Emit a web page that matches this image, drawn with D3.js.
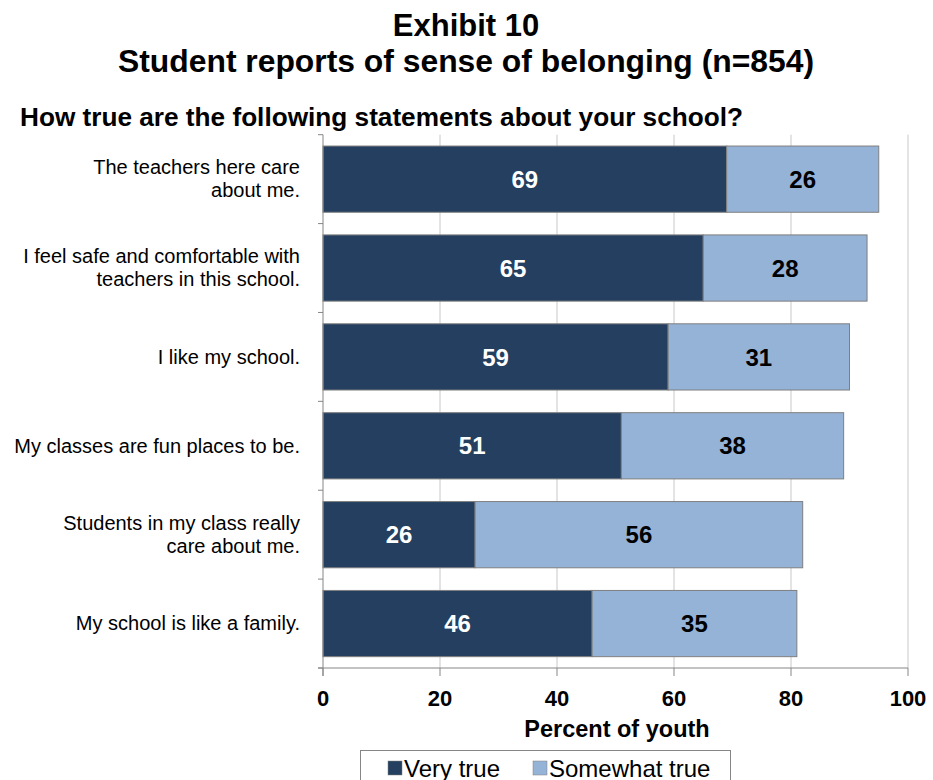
<!DOCTYPE html>
<html>
<head>
<meta charset="utf-8">
<script src="https://cdn.jsdelivr.net/npm/d3@7/dist/d3.min.js"></script>
<style>
    body { margin: 0; background: #fff; }
    text { font-family: "Liberation Sans", Arial, sans-serif; }
</style>
</head>
<body>
<svg id="chart" width="933" height="780"></svg>
<script>
const categories = [
    ["The teachers here care", "about me."],
    ["I feel safe and comfortable with", "teachers in this school."],
    ["I like my school."],
    ["My classes are fun places to be."],
    ["Students in my class really", "care about me."],
    ["My school is like a family."]
];
const veryTrue = [69, 65, 59, 51, 26, 46];
const somewhatTrue = [26, 28, 31, 38, 56, 35];
const seriesNames = ["Very true", "Somewhat true"];
const xTicks = [0, 20, 40, 60, 80, 100];
const colors = ["#243F60", "#95B3D7"];

var svg = d3.select("#chart");
var plotLeft = 323, plotRight = 908, plotTop = 134.7, plotBottom = 668;

// Titles
svg.append("text")
    .attr("x", 466).attr("y", 36)
    .style("text-anchor", "middle")
    .style("font-weight", "bold").style("font-size", "31px")
    .text("Exhibit 10");
svg.append("text")
    .attr("x", 466).attr("y", 72)
    .style("text-anchor", "middle")
    .style("font-weight", "bold").style("font-size", "31px")
    .attr("textLength", 696).attr("lengthAdjust", "spacingAndGlyphs")
    .text("Student reports of sense of belonging (n=854)");
svg.append("text")
    .attr("x", 20).attr("y", 126)
    .style("font-weight", "bold").style("font-size", "26px")
    .attr("textLength", 723).attr("lengthAdjust", "spacingAndGlyphs")
    .text("How true are the following statements about your school?");

var keys = categories.map((c, i) => i);
var x = d3.scaleLinear().domain([0, 100]).range([plotLeft, plotRight]);
var y = d3.scaleBand().domain(keys).range([plotTop, plotBottom])
    .paddingInner(0.255).paddingOuter(0.1275);

// Gridlines
svg.selectAll("line.grid")
    .data(xTicks.filter(t => t > 0))
    .enter().append("line")
    .attr("class", "grid")
    .attr("x1", d => x(d)).attr("x2", d => x(d))
    .attr("y1", plotTop).attr("y2", plotBottom)
    .attr("stroke", "#c8c8c8").attr("stroke-width", 1);

// Stacked bars
var stackData = keys.map(i => ({ idx: i, a: veryTrue[i], b: somewhatTrue[i] }));
var stacked = d3.stack().keys(["a", "b"])(stackData);

stacked.forEach((layer, li) => {
    var g = svg.append("g");
    g.selectAll("rect")
        .data(layer)
        .enter().append("rect")
        .attr("x", d => x(d[0]))
        .attr("y", d => y(d.data.idx))
        .attr("width", d => x(d[1]) - x(d[0]))
        .attr("height", y.bandwidth())
        .attr("fill", colors[li])
        .attr("stroke", "#7f7f7f")
        .attr("stroke-width", 1);
    g.selectAll("text")
        .data(layer)
        .enter().append("text")
        .attr("x", d => (x(d[0]) + x(d[1])) / 2)
        .attr("y", d => y(d.data.idx) + y.bandwidth() / 2)
        .attr("dy", "0.36em")
        .style("text-anchor", "middle")
        .style("font-weight", "bold").style("font-size", "24px")
        .style("fill", li === 0 ? "#fff" : "#000")
        .text(d => d[1] - d[0]);
});

// Left axis with ticks between categories
var yAxis = svg.append("g");
yAxis.append("line")
    .attr("x1", plotLeft).attr("x2", plotLeft)
    .attr("y1", plotTop).attr("y2", plotBottom + 8)
    .attr("stroke", "#868686");
d3.range(categories.length + 1).forEach(i => {
    var yy = plotTop + i * (plotBottom - plotTop) / categories.length;
    yAxis.append("line")
        .attr("x1", plotLeft - 5).attr("x2", plotLeft)
        .attr("y1", yy).attr("y2", yy)
        .attr("stroke", "#868686");
});

// Category labels
categories.forEach((lines, i) => {
    var cy = y(i) + y.bandwidth() / 2;
    var t = svg.append("text")
        .attr("y", cy - (lines.length - 1) * 11.6)
        .style("text-anchor", "end")
        .style("font-size", "20px")
        .style("fill", "#000");
    lines.forEach((ln, j) => {
        t.append("tspan")
            .attr("x", 300)
            .attr("dy", j === 0 ? "0.34em" : "22.7px")
            .text(ln);
    });
});

// Bottom axis
var xAxis = svg.append("g");
xAxis.append("line")
    .attr("x1", plotLeft - 5).attr("x2", plotRight)
    .attr("y1", plotBottom).attr("y2", plotBottom)
    .attr("stroke", "#868686");
xAxis.selectAll("line.tick")
    .data(xTicks)
    .enter().append("line")
    .attr("class", "tick")
    .attr("x1", d => x(d)).attr("x2", d => x(d))
    .attr("y1", plotBottom).attr("y2", plotBottom + 8)
    .attr("stroke", "#868686");
xAxis.selectAll("text")
    .data(xTicks)
    .enter().append("text")
    .attr("x", d => x(d))
    .attr("y", 706)
    .style("text-anchor", "middle")
    .style("font-weight", "bold").style("font-size", "22px")
    .text(d => d);

svg.append("text")
    .attr("x", 617).attr("y", 737)
    .style("text-anchor", "middle")
    .style("font-weight", "bold").style("font-size", "23.5px")
    .text("Percent of youth");

// Legend
var legend = svg.append("g");
legend.append("rect")
    .attr("x", 360.5).attr("y", 750.5)
    .attr("width", 370).attr("height", 40)
    .attr("fill", "#fff").attr("stroke", "#868686");
var legX = [388, 533];
seriesNames.forEach((name, i) => {
    legend.append("rect")
        .attr("x", legX[i]).attr("y", 761)
        .attr("width", 14).attr("height", 14)
        .attr("fill", colors[i])
        .attr("stroke", "#7f7f7f").attr("stroke-width", 0.5);
    legend.append("text")
        .attr("x", legX[i] + 16).attr("y", 777)
        .style("font-size", "24px")
        .text(name);
});
</script>
</body>
</html>
